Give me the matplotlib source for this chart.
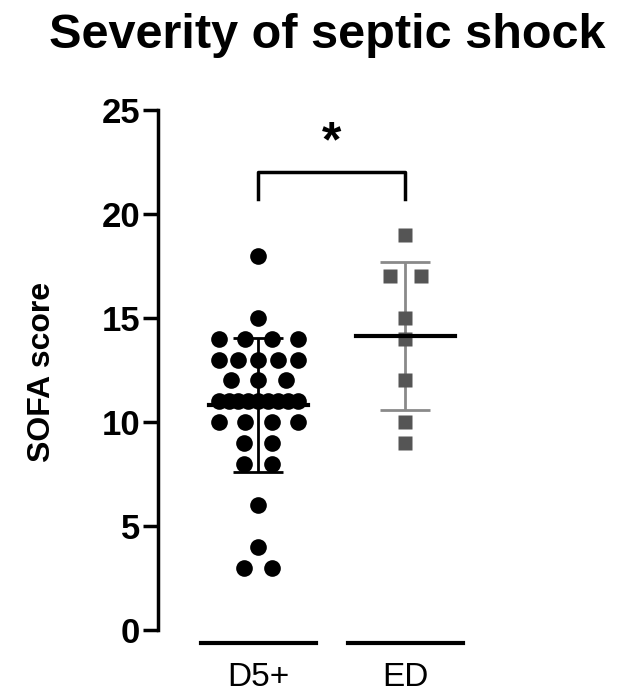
import numpy as np
import matplotlib.pyplot as plt

plt.rcParams['font.family'] = ['Liberation Sans', 'DejaVu Sans']

groups = ['D5+', 'ED']
d5_values = [18, 15, 14, 14, 14, 14, 13, 13, 13, 13, 13, 12, 12, 12,
             11, 11, 11, 11, 11, 11, 11, 11, 11, 10, 10, 10, 10,
             9, 9, 8, 8, 6, 4, 3, 3]
ed_values = [19, 17, 17, 15, 14, 12, 10, 9]

PX = 148.0  # pixels per x unit


def swarm(vals, max_half=40, step=28):
    # spread equal values side by side, centred on 0
    vals = np.array(vals, dtype=float)
    xs = np.zeros(len(vals))
    for v in np.unique(vals):
        idx = np.where(vals == v)[0]
        n = len(idx)
        if n > 1:
            sp = min(step, 2 * max_half / (n - 1))
            xs[idx] = (np.arange(n) - (n - 1) / 2) * sp
    return xs / PX


fig = plt.figure(figsize=(6.25, 6.98), dpi=100)
ax = fig.add_axes([158 / 625, 68 / 698, 312 / 625, 520 / 698])

# D5+
xd = 0 + swarm(d5_values)
ax.plot(xd, d5_values, 'o', color='black', ms=12, mec='none', zorder=3)
m, s = np.mean(d5_values), np.std(d5_values, ddof=1)
ax.plot([-50 / PX, 50 / PX], [m, m], color='black', lw=3, zorder=4)
ax.errorbar(0, m, yerr=s, color='black', lw=2, capsize=18, capthick=2, zorder=4)

# ED
xe = 1 + swarm(ed_values, max_half=16, step=32)
ax.plot(xe, ed_values, 's', color='#555555', ms=10, mec='none', zorder=3)
m, s = np.mean(ed_values), np.std(ed_values, ddof=1)
ax.errorbar(1, m, yerr=s, color='#8a8a8a', lw=2, capsize=18, capthick=2, zorder=2)
ax.plot([1 - 50 / PX, 1 + 50 / PX], [m, m], color='black', lw=3, zorder=4)

# significance bracket
ax.plot([0, 0, 1, 1], [20.7, 22.0, 22.0, 20.7], color='black', lw=2.5, clip_on=False)
ax.text(0.5, 22.3, '*', ha='center', va='bottom', fontsize=36, fontweight='bold')

ax.set_xlim(-101 / PX, 1 + 65 / PX)
ax.set_ylim(0, 25)
ax.set_yticks([0, 5, 10, 15, 20, 25])
ax.tick_params(axis='y', labelsize=25, width=2.5, length=11, pad=2)
for lab in ax.get_yticklabels():
    lab.set_fontweight('bold')
ax.spines['left'].set_linewidth(2.5)
for sp in ['top', 'right', 'bottom']:
    ax.spines[sp].set_visible(False)
ax.set_xticks([])

# group lines under each column
for i in range(2):
    ax.plot([i - 58 / PX, i + 58 / PX], [-0.62, -0.62], color='black', lw=3, clip_on=False)
    ax.text(i, -1.55, groups[i], ha='center', va='top', fontsize=24)

fig.text(42 / 625, 1 - 372 / 698, 'SOFA score', rotation=90, ha='center', va='center',
         fontsize=23, fontweight='bold')
fig.text(0.523, 1 - 36 / 698, 'Severity of septic shock', ha='center', va='center',
         fontsize=35, fontweight='bold')

plt.savefig('out.png', dpi=100)
